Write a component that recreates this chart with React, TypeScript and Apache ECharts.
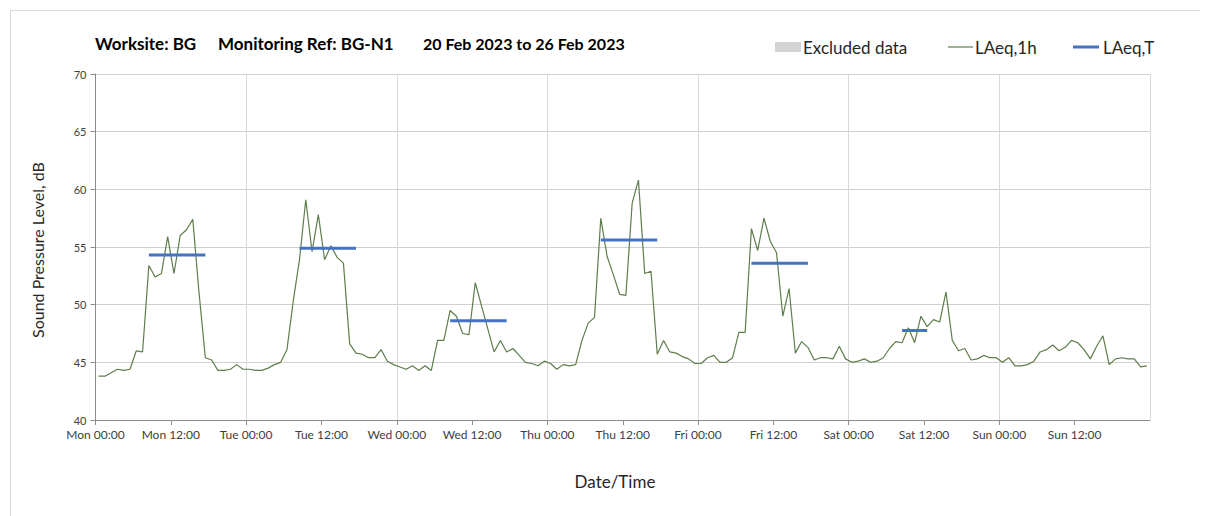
import React, { useEffect, useRef } from "react";
import * as echarts from "echarts";

const dayNames = ["Mon", "Tue", "Wed", "Thu", "Fri", "Sat", "Sun"];

// Hourly LAeq,1h values, Mon 20 Feb 2023 00:00 to Sun 26 Feb 2023 23:00
const laeq1h = [
  43.8, 43.8, 44.1, 44.4, 44.3, 44.4, 46.0, 45.9, 53.4, 52.4, 52.7, 55.9, 52.7, 56.0, 56.5, 57.4, 51.0, 45.4, 45.2, 44.3, 44.3, 44.4, 44.8, 44.4,
  44.4, 44.3, 44.3, 44.5, 44.8, 45.0, 46.1, 50.3, 53.9, 59.1, 54.6, 57.8, 53.9, 55.1, 54.1, 53.6, 46.6, 45.8, 45.7, 45.4, 45.4, 46.1, 45.1, 44.8,
  44.6, 44.4, 44.7, 44.3, 44.7, 44.3, 46.9, 46.9, 49.5, 49.0, 47.5, 47.4, 51.9, 49.9, 47.9, 45.9, 46.9, 45.9, 46.2, 45.6, 45.0, 44.9, 44.7, 45.1,
  44.9, 44.4, 44.8, 44.7, 44.8, 46.9, 48.4, 48.9, 57.5, 54.2, 52.6, 50.9, 50.8, 58.8, 60.8, 52.7, 52.9, 45.7, 46.9, 45.9, 45.8, 45.5, 45.3, 44.9,
  44.9, 45.4, 45.6, 45.0, 45.0, 45.4, 47.6, 47.6, 56.6, 54.7, 57.5, 55.5, 54.5, 49.0, 51.4, 45.8, 46.8, 46.3, 45.2, 45.4, 45.4, 45.3, 46.4, 45.3,
  45.0, 45.1, 45.3, 45.0, 45.1, 45.4, 46.2, 46.8, 46.7, 48.0, 46.7, 49.0, 48.1, 48.7, 48.5, 51.1, 46.9, 46.0, 46.2, 45.2, 45.3, 45.6, 45.4, 45.4,
  45.0, 45.4, 44.7, 44.7, 44.8, 45.1, 45.9, 46.1, 46.5, 46.0, 46.3, 46.9, 46.7, 46.1, 45.3, 46.4, 47.3, 44.8, 45.3, 45.4, 45.3, 45.3, 44.6, 44.7,
];

// Daytime LAeq,T periods (hour index of first and last hour) and levels
const periodStart = [8, 32, 56, 80, 104, 128];
const periodEnd = [17, 41, 65, 89, 113, 132];
const periodLevel = [54.3, 54.9, 48.6, 55.6, 53.6, 47.75];

const yMin = 40;
const yMax = 70;
const yStep = 5;

const FONT = "Lato, 'Open Sans', sans-serif";
const GREEN = "#5e7d4c";
const BLUE = "#4472c4";

export default function App() {
  const ref = useRef<HTMLDivElement>(null);

  useEffect(() => {
    if (!ref.current) return;
    const chart = echarts.init(ref.current, undefined, { renderer: "svg" });

    const lineData = laeq1h.map((v, i) => [i + 0.5, v]);
    const periodSeries = periodStart.map((s, k) => ({
      type: "line",
      name: "LAeq,T",
      data: [
        [s + 0.5, periodLevel[k]],
        [periodEnd[k] + 0.5, periodLevel[k]],
      ],
      symbol: "none",
      lineStyle: { color: BLUE, width: 3 },
      z: 3,
      silent: true,
    }));

    const axisGray = "#8c8c8c";

    chart.setOption({
      animation: false,
      grid: { left: 87.5, right: 58, top: 66, bottom: 96, containLabel: false },
      xAxis: [
        {
          type: "value",
          min: 0,
          max: 168,
          interval: 12,
          axisLine: { show: true, lineStyle: { color: axisGray } },
          axisTick: { show: true, length: 5, lineStyle: { color: axisGray } },
          splitLine: { show: false },
          axisLabel: {
            color: "#404040",
            fontFamily: FONT,
            fontSize: 12,
            margin: 8,
            showMaxLabel: false,
            formatter: (v: number) => {
              if (v >= 168) return "";
              const d = Math.floor(v / 24);
              const h = v % 24;
              return `${dayNames[d]} ${h === 0 ? "00" : "12"}:00`;
            },
          },
        },
        {
          type: "value",
          min: 0,
          max: 168,
          interval: 24,
          position: "bottom",
          axisLine: { show: false },
          axisTick: { show: false },
          axisLabel: { show: false },
          splitLine: { show: true, lineStyle: { color: "#d9d9d9", width: 1 } },
        },
      ],
      yAxis: {
        type: "value",
        min: yMin,
        max: yMax,
        interval: yStep,
        axisLine: { show: true, lineStyle: { color: axisGray } },
        axisTick: { show: true, length: 5, lineStyle: { color: axisGray } },
        splitLine: { show: true, lineStyle: { color: "#d0d0d0" } },
        axisLabel: { color: "#404040", fontFamily: FONT, fontSize: 11, margin: 9 },
      },
      series: [
        {
          type: "line",
          name: "LAeq,1h",
          data: lineData,
          symbol: "none",
          lineStyle: { color: GREEN, width: 1.2 },
          z: 2,
          silent: true,
        },
        ...periodSeries,
      ],
      graphic: [
        {
          type: "rect",
          left: 0,
          top: 0,
          shape: { width: 1195, height: 520 },
          style: { fill: "none", stroke: "#d9d9d9", lineWidth: 1 },
          silent: true,
        },
        {
          type: "text",
          x: 87,
          y: 35,
          style: { text: "Worksite: BG", font: `bold 17px ${FONT}`, fill: "#000", textVerticalAlign: "middle" },
        },
        {
          type: "text",
          x: 210,
          y: 35,
          style: { text: "Monitoring Ref: BG-N1", font: `bold 17px ${FONT}`, fill: "#000", textVerticalAlign: "middle" },
        },
        {
          type: "text",
          x: 415,
          y: 35,
          style: { text: "20 Feb 2023 to 26 Feb 2023", font: `bold 16px ${FONT}`, fill: "#000", textVerticalAlign: "middle" },
        },
        {
          type: "rect",
          shape: { x: 767, y: 34, width: 26, height: 10 },
          style: { fill: "#d4d4d4" },
        },
        {
          type: "text",
          x: 795,
          y: 39,
          style: { text: "Excluded data", font: `17px ${FONT}`, fill: "#262626", textVerticalAlign: "middle" },
        },
        {
          type: "line",
          shape: { x1: 940, y1: 39, x2: 965, y2: 39 },
          style: { stroke: GREEN, lineWidth: 1.2 },
        },
        {
          type: "text",
          x: 967,
          y: 39,
          style: { text: "LAeq,1h", font: `17px ${FONT}`, fill: "#262626", textVerticalAlign: "middle" },
        },
        {
          type: "line",
          shape: { x1: 1065, y1: 39, x2: 1091, y2: 39 },
          style: { stroke: BLUE, lineWidth: 3 },
        },
        {
          type: "text",
          x: 1095,
          y: 39,
          style: { text: "LAeq,T", font: `17px ${FONT}`, fill: "#262626", textVerticalAlign: "middle" },
        },
        {
          type: "text",
          x: 607,
          y: 473,
          style: { text: "Date/Time", font: `17px ${FONT}`, fill: "#262626", textAlign: "center", textVerticalAlign: "middle" },
        },
        {
          type: "text",
          x: 29,
          y: 242,
          rotation: Math.PI / 2,
          style: { text: "Sound Pressure Level, dB", font: `16px ${FONT}`, fill: "#262626", textAlign: "center", textVerticalAlign: "middle" },
        },
      ],
    });

    return () => chart.dispose();
  }, []);

  return <div ref={ref} style={{ width: 1200, height: 508 }} />;
}
